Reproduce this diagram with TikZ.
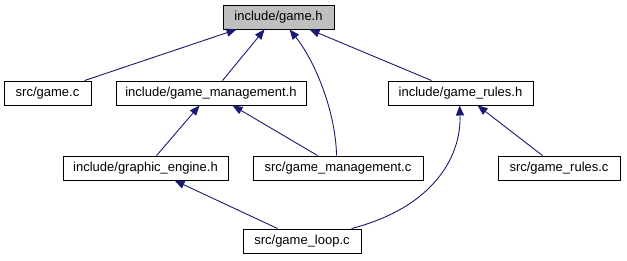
\documentclass[tikz,border=0pt]{standalone}
\usepackage{fontspec}
\setmainfont{Liberation Sans}
\usetikzlibrary{arrows.meta}
\definecolor{edgeblue}{HTML}{191970}
\definecolor{rootgray}{HTML}{BFBFBF}
\begin{document}
\begin{tikzpicture}[x=1pt,y=-1pt,
  filebox/.style={draw=black,line width=0.9pt,fill=white,minimum height=24pt,
    inner sep=0pt,font=\fontsize{13}{15}\selectfont,text=black},
  rootbox/.style={filebox,fill=rootgray},
  edge/.style={draw=edgeblue,line width=0.9pt,
    -{Triangle[length=10pt,width=8pt]}}]
\useasboundingbox (0,0) rectangle (627,261);

% files
\node[rootbox,minimum width=111pt] (gameh) at (278.5,17) {include/game.h};
\node[filebox,minimum width=87pt]  (gamec) at (47.5,93) {src/game.c};
\node[filebox,minimum width=190pt] (gmh)   at (211,93) {include/game\_management.h};
\node[filebox,minimum width=145pt] (grh)   at (460.5,93) {include/game\_rules.h};
\node[filebox,minimum width=165pt] (ge)    at (145.5,168) {include/graphic\_engine.h};
\node[filebox,minimum width=170pt] (gmc)   at (338,168) {src/game\_management.c};
\node[filebox,minimum width=122pt] (grc)   at (559,168) {src/game\_rules.c};
\node[filebox,minimum width=118pt] (gl)    at (302,241) {src/game\_loop.c};

% include dependencies
\draw[edge] ([xshift=81pt]gamec.north west) -- ([xshift=14pt]gameh.south west);
\draw[edge] ([xshift=107pt]gmh.north west) -- ([xshift=42pt]gameh.south west);
\draw[edge] ([xshift=84pt]gmc.north west)
  .. controls +(-1,-45) and +(25,31) .. ([xshift=67pt]gameh.south west);
\draw[edge] ([xshift=44pt]grh.north west) -- ([xshift=87pt]gameh.south west);
\draw[edge] ([xshift=94pt]ge.north west) -- ([xshift=84pt]gmh.south west);
\draw[edge] ([xshift=65pt]gmc.north west) -- ([xshift=117pt]gmh.south west);
\draw[edge] ([xshift=109pt]gl.north west)
  .. controls +(88,-23) and +(2,45) .. ([xshift=72pt]grh.south west);
\draw[edge] ([xshift=45pt]grc.north west) -- ([xshift=90pt]grh.south west);
\draw[edge] ([xshift=35pt]gl.north west) -- ([xshift=112pt]ge.south west);
\end{tikzpicture}
\end{document}
